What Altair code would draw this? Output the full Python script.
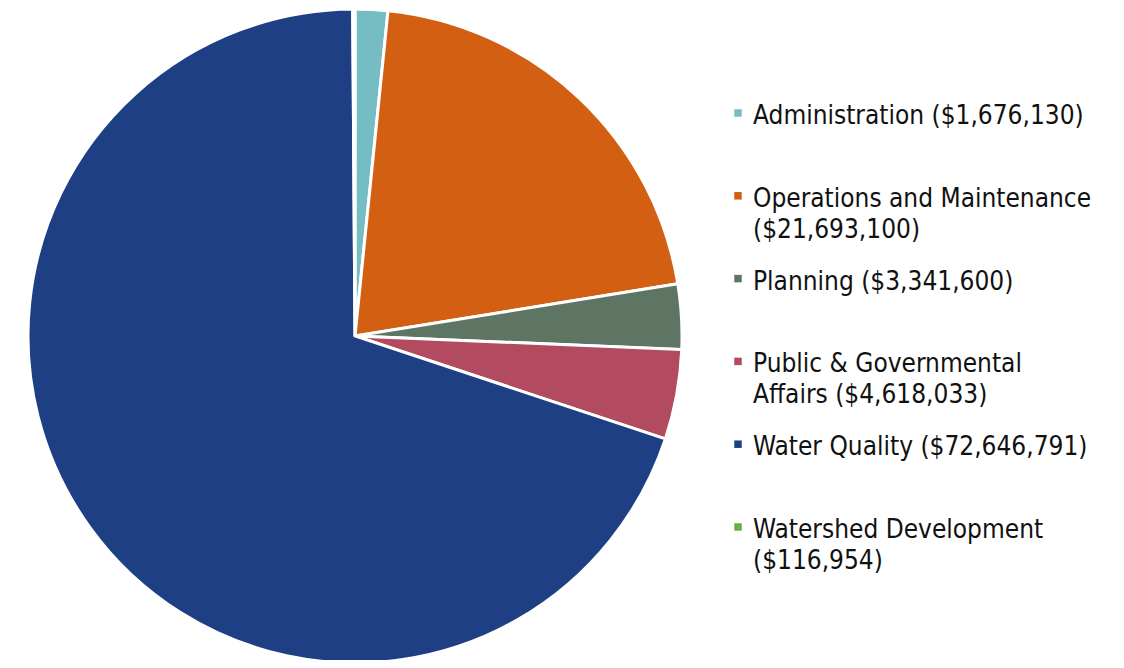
import altair as alt
import pandas as pd

categories = [
    "Administration",
    "Operations and Maintenance",
    "Planning",
    "Public & Governmental Affairs",
    "Water Quality",
    "Watershed Development",
]
values = [1676130, 21693100, 3341600, 4618033, 72646791, 116954]
labels = [
    "Administration ($1,676,130)",
    "Operations and Maintenance\n($21,693,100)",
    "Planning ($3,341,600)",
    "Public & Governmental\nAffairs ($4,618,033)",
    "Water Quality ($72,646,791)",
    "Watershed Development\n($116,954)",
]
colors = ["#76BDC3", "#D25F12", "#5F7563", "#B24A60", "#1E3F83", "#68AD45"]

df = pd.DataFrame({
    "category": categories,
    "value": values,
    "label": labels,
    "idx": list(range(len(categories))),
})

color = alt.Color("category:N", scale=alt.Scale(domain=categories, range=colors), legend=None)

base = alt.Chart(df)

pie = base.mark_arc(radius=327, stroke="white", strokeWidth=3).encode(
    theta=alt.Theta("value:Q", stack=True),
    order=alt.Order("idx:Q"),
    color=color,
    x=alt.value(347),
    y=alt.value(328),
)

yenc = alt.Y("category:N", sort=categories,
             scale=alt.Scale(type="point", domain=categories, range=[105, 519], padding=0),
             axis=None)

squares = base.mark_square(size=56, opacity=1).encode(
    x=alt.value(730),
    y=yenc,
    color=color,
)

texts = base.mark_text(
    align="left", baseline="alphabetic", dy=11, lineBreak="\n", lineHeight=31,
    font="DejaVu Sans Condensed", fontSize=26, color="#111111",
).encode(
    x=alt.value(745),
    y=yenc,
    text="label:N",
)

chart = alt.layer(pie, squares, texts).properties(
    width=1108, height=652, autosize=alt.AutoSizeParams(type="none"), padding=0,
).configure_view(stroke=None)

chart.save("out.html", embed_options={"renderer": "svg", "actions": False})
